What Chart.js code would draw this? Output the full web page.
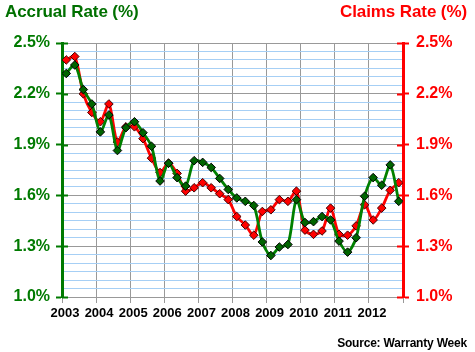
<!DOCTYPE html>
<html>
<head>
<meta charset="utf-8">
<script src="https://cdn.jsdelivr.net/npm/chart.js@4/dist/chart.umd.min.js"></script>
<style>
  html, body { margin: 0; padding: 0; background: #fff; }
  #wrap { position: relative; width: 475px; height: 352px; }
  canvas { position: absolute; left: 0; top: 0; }
  .lbl { position: absolute; font-family: Arial, "Liberation Sans", sans-serif; font-weight: bold; white-space: nowrap; }
  #tl { left: 5px; top: 2px; font-size: 17px; color: #007000; letter-spacing: -0.1px; }
  #tr { right: 8px; top: 2px; font-size: 17px; color: #ff0000; letter-spacing: -0.1px; }
  #src { right: 8px; top: 336px; font-size: 12px; color: #000; letter-spacing: -0.2px; }
</style>
</head>
<body>
<div id="wrap">
  <canvas id="chart" width="475" height="352"></canvas>
  <div class="lbl" id="tl">Accrual Rate (%)</div>
  <div class="lbl" id="tr">Claims Rate (%)</div>
  <div class="lbl" id="src">Source: Warranty Week</div>
</div>
<script>
// years on the x axis, one point per quarter
const years = [2003, 2004, 2005, 2006, 2007, 2008, 2009, 2010, 2011, 2012];
const quarters = [1, 2, 3, 4];

// accrual rate (%) per quarter, 2003 Q1 .. 2012 Q4
const accrualRate = [
    2.32, 2.37, 2.225, 2.14,
    1.975, 2.075, 1.865, 2.0,
    2.035, 1.97, 1.89, 1.685,
    1.79, 1.705, 1.655, 1.805,
    1.795, 1.765, 1.70, 1.635,
    1.585, 1.565, 1.54, 1.325,
    1.245, 1.295, 1.31, 1.575,
    1.44, 1.445, 1.475, 1.455,
    1.33, 1.265, 1.35, 1.595,
    1.705, 1.66, 1.78, 1.565
];

// claims rate (%) per quarter
const claimsRate = [
    2.40, 2.42, 2.20, 2.09,
    2.035, 2.14, 1.915, 2.005,
    2.005, 1.935, 1.82, 1.735,
    1.79, 1.73, 1.625, 1.645,
    1.675, 1.645, 1.61, 1.575,
    1.475, 1.425, 1.365, 1.505,
    1.515, 1.575, 1.565, 1.625,
    1.395, 1.37, 1.39, 1.525,
    1.37, 1.365, 1.42, 1.545,
    1.455, 1.525, 1.63, 1.675
];

// labelled ticks on both y axes
const majorTicks = [1.0, 1.3, 1.6, 1.9, 2.2, 2.5];

const greenLine = '#008000';
const greenAxis = '#007a00';
const redLine = '#ff0000';
const gridGray = '#999999';
const gridBlue = '#a6cff5';
const font = 'Arial, "Liberation Sans", sans-serif';

// quarter midpoints: 2003 Q1 -> 2003.125
const quarterPos = years.flatMap(y => quarters.map(q => y + (q - 0.5) / 4));
const toPoints = vals => vals.map((v, i) => ({ x: quarterPos[i], y: v }));

const isMajor = v => majorTicks.some(m => Math.abs(m - v) < 1e-6);

// short tick marks that cross into the plot on both axes
const innerTicks = {
    id: 'innerTicks',
    beforeDatasetsDraw(chart) {
        const { ctx, chartArea } = chart;
        ctx.save();
        ctx.lineWidth = 2;
        majorTicks.forEach(v => {
            const y = Math.round(chart.scales.y.getPixelForValue(v)) + 0.5;
            ctx.strokeStyle = greenAxis;
            ctx.beginPath();
            ctx.moveTo(chartArea.left, y);
            ctx.lineTo(chartArea.left + 6, y);
            ctx.stroke();
            ctx.strokeStyle = redLine;
            ctx.beginPath();
            ctx.moveTo(chartArea.right - 6, y);
            ctx.lineTo(chartArea.right, y);
            ctx.stroke();
        });
        ctx.restore();
    }
};

new Chart(document.getElementById('chart'), {
    type: 'line',
    data: {
        datasets: [
            {
                label: 'Accrual Rate (%)',
                data: toPoints(accrualRate),
                borderColor: greenLine,
                borderWidth: 2.8,
                tension: 0.3,
                pointStyle: 'rectRot',
                pointRadius: 4.3,
                pointBackgroundColor: '#006400',
                pointBorderColor: '#000',
                pointBorderWidth: 1,
                yAxisID: 'y'
            },
            {
                label: 'Claims Rate (%)',
                data: toPoints(claimsRate),
                borderColor: redLine,
                borderWidth: 2.8,
                tension: 0.3,
                pointStyle: 'rectRot',
                pointRadius: 4.3,
                pointBackgroundColor: '#ff0000',
                pointBorderColor: '#400000',
                pointBorderWidth: 1,
                yAxisID: 'y1'
            }
        ]
    },
    options: {
        responsive: false,
        animation: false,
        devicePixelRatio: 1,
        layout: { padding: { top: 43, left: 0, right: 0, bottom: 0 } },
        plugins: {
            legend: { display: false },
            tooltip: { enabled: false }
        },
        scales: {
            x: {
                type: 'linear',
                min: 2003,
                max: 2013,
                afterFit: s => { s.height = 55; },
                border: { color: gridGray, width: 1 },
                grid: { color: gridGray, lineWidth: 1, tickLength: 6, tickColor: gridGray },
                ticks: {
                    stepSize: 1,
                    autoSkip: false,
                    maxRotation: 0,
                    padding: 3,
                    labelOffset: 3,
                    color: '#000',
                    font: { family: font, size: 13, weight: 'bold' },
                    callback: v => (v < 2013 ? String(v) : '')
                }
            },
            y: {
                position: 'left',
                min: 1.0,
                max: 2.5,
                afterFit: s => { s.width = 62; },
                border: { color: greenAxis, width: 3 },
                grid: {
                    color: c => (isMajor(c.tick.value) ? gridGray : gridBlue),
                    lineWidth: 1,
                    tickLength: 6,
                    tickWidth: 2,
                    tickColor: c => (isMajor(c.tick.value) ? greenAxis : 'rgba(0,0,0,0)')
                },
                ticks: {
                    stepSize: 0.05,
                    autoSkip: false,
                    padding: 6,
                    color: greenAxis,
                    font: { family: font, size: 16, weight: 'bold' },
                    callback: v => (isMajor(v) ? v.toFixed(1) + '%' : '')
                }
            },
            y1: {
                position: 'right',
                min: 1.0,
                max: 2.5,
                afterFit: s => { s.width = 72; },
                border: { color: redLine, width: 3 },
                grid: {
                    drawOnChartArea: false,
                    tickLength: 6,
                    tickWidth: 2,
                    tickColor: c => (isMajor(c.tick.value) ? redLine : 'rgba(0,0,0,0)')
                },
                ticks: {
                    stepSize: 0.05,
                    autoSkip: false,
                    padding: 7,
                    color: redLine,
                    font: { family: font, size: 16, weight: 'bold' },
                    callback: v => (isMajor(v) ? v.toFixed(1) + '%' : '')
                }
            }
        }
    },
    plugins: [innerTicks]
});
</script>
</body>
</html>
